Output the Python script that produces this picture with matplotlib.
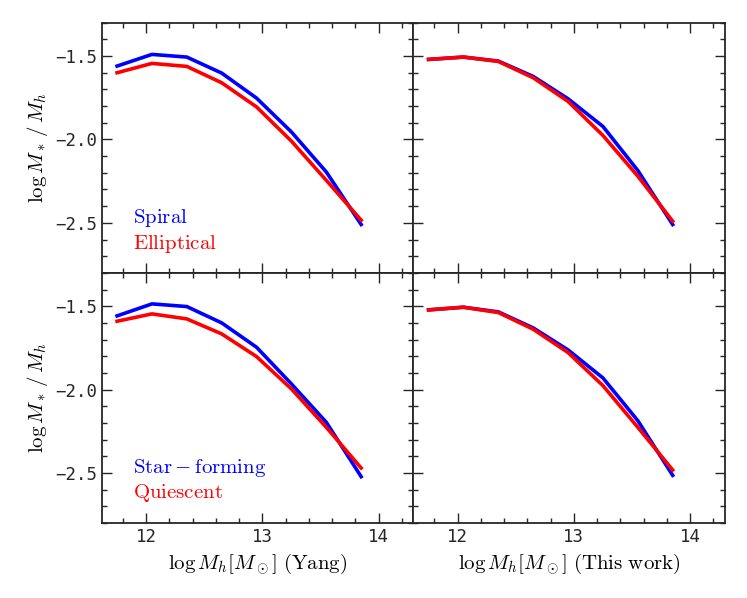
import matplotlib
matplotlib.use("Agg")
from matplotlib import pyplot as plt
from matplotlib.ticker import MultipleLocator

# halo mass bins
log_mh = [11.75, 12.05, 12.35, 12.65, 12.95, 13.25, 13.55, 13.85]

# top row: spiral / elliptical
yang_spiral = [-1.56, -1.49, -1.506, -1.602, -1.752, -1.955, -2.195, -2.51]
yang_elliptical = [-1.60, -1.544, -1.562, -1.66, -1.805, -2.01, -2.245, -2.484]
this_spiral = [-1.52, -1.506, -1.53, -1.622, -1.756, -1.922, -2.186, -2.51]
this_elliptical = [-1.52, -1.506, -1.532, -1.63, -1.772, -1.976, -2.22, -2.49]

# bottom row: star-forming / quiescent
yang_sf = [-1.558, -1.486, -1.502, -1.60, -1.746, -1.966, -2.196, -2.522]
yang_q = [-1.59, -1.546, -1.576, -1.666, -1.802, -1.996, -2.226, -2.47]
this_sf = [-1.522, -1.506, -1.534, -1.63, -1.762, -1.93, -2.186, -2.514]
this_q = [-1.522, -1.506, -1.538, -1.638, -1.778, -1.976, -2.226, -2.482]

plt.rcParams['mathtext.fontset'] = 'cm'
dark = '#262626'

fig, axes = plt.subplots(2, 2, figsize=(7.47, 5.98), dpi=100, sharex=True, sharey=True)
fig.subplots_adjust(left=0.1365, right=0.9705, top=0.962, bottom=0.1254, hspace=0, wspace=0)

panels = [
    (axes[0, 0], yang_spiral, yang_elliptical),
    (axes[0, 1], this_spiral, this_elliptical),
    (axes[1, 0], yang_sf, yang_q),
    (axes[1, 1], this_sf, this_q),
]
for ax, blue, red in panels:
    ax.plot(log_mh, blue, color='blue', lw=2.6)
    ax.plot(log_mh, red, color='red', lw=2.6)
    ax.set_xlim(11.62, 14.30)
    ax.set_ylim(-2.8, -1.3)
    ax.xaxis.set_major_locator(MultipleLocator(1))
    ax.xaxis.set_minor_locator(MultipleLocator(0.2))
    ax.yaxis.set_major_locator(MultipleLocator(0.5))
    ax.yaxis.set_minor_locator(MultipleLocator(0.1))
    ax.tick_params(which='both', direction='in', top=True, right=True, color=dark, width=1)
    ax.tick_params(which='major', length=7)
    ax.tick_params(which='minor', length=3.5)
    for lab in ax.get_xticklabels() + ax.get_yticklabels():
        lab.set_fontfamily('DejaVu Sans Mono')
        lab.set_fontsize(12.5)
        lab.set_color(dark)
    for sp in ax.spines.values():
        sp.set_color(dark)
        sp.set_linewidth(1.3)

ylab = r'$\log M_*\,/\,M_h$'
axes[0, 0].set_ylabel(ylab, fontsize=15)
axes[1, 0].set_ylabel(ylab, fontsize=15)
axes[1, 0].set_xlabel(r'$\log M_h[M_\odot]\ \rm (Yang)$', fontsize=15)
axes[1, 1].set_xlabel(r'$\log M_h[M_\odot]\ \rm (This\ work)$', fontsize=15)

axes[0, 0].text(0.10, 0.20, r'$\rm Spiral$', color='blue', fontsize=15, transform=axes[0, 0].transAxes, va='baseline')
axes[0, 0].text(0.10, 0.096, r'$\rm Elliptical$', color='red', fontsize=15, transform=axes[0, 0].transAxes, va='baseline')
axes[1, 0].text(0.10, 0.20, r'$\rm Star-forming$', color='blue', fontsize=15, transform=axes[1, 0].transAxes, va='baseline')
axes[1, 0].text(0.10, 0.10, r'$\rm Quiescent$', color='red', fontsize=15, transform=axes[1, 0].transAxes, va='baseline')

plt.savefig('out.png', dpi=100)
